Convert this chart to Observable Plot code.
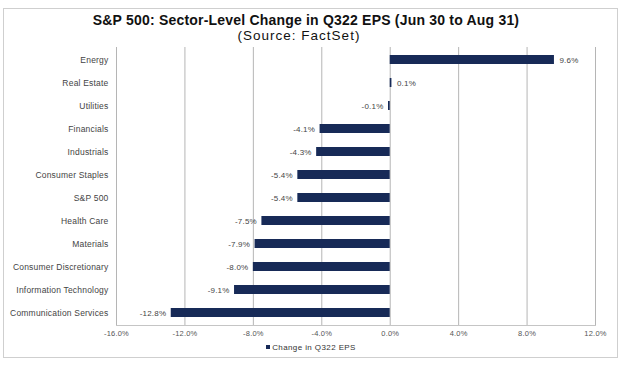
<!DOCTYPE html>
<html>
<head>
<meta charset="utf-8">
<script src="https://cdn.jsdelivr.net/npm/d3@7"></script>
<script src="https://cdn.jsdelivr.net/npm/@observablehq/plot@0.6"></script>
<style>
  html, body { margin: 0; padding: 0; background: #fff; }
  #wrap { position: relative; width: 630px; height: 365px; font-family: "Liberation Sans", Arial, sans-serif; overflow: hidden; }
  #frame { position: absolute; left: 3px; top: 8px; width: 613px; height: 348px; border: 1px solid #cfcfcf; }
  #title { position: absolute; left: 0; width: 612px; top: 12px; text-align: center; font-weight: bold; font-size: 14px; letter-spacing: 0.2px; color: #111; }
  #subtitle { position: absolute; left: 0; width: 598px; top: 28px; text-align: center; font-size: 13.5px; letter-spacing: 1px; color: #111; }
  #chart { position: absolute; left: 0; top: 40px; }
  #legend { position: absolute; left: 0; width: 622px; top: 343px; text-align: center; font-size: 8px; letter-spacing: 0.4px; color: #333; }
  #legend span.sw { display: inline-block; width: 4px; height: 4px; background: #172a57; margin-right: 2px; vertical-align: 1px; }
</style>
</head>
<body>
<div id="wrap">
  <div id="frame"></div>
  <div id="title">S&amp;P 500: Sector-Level Change in Q322 EPS (Jun 30 to Aug 31)</div>
  <div id="subtitle">(Source: FactSet)</div>
  <div id="chart"></div>
  <div id="legend"><span class="sw"></span>Change in Q322 EPS</div>
</div>
<script>
const sectors = ["Energy", "Real Estate", "Utilities", "Financials", "Industrials", "Consumer Staples", "S&P 500", "Health Care", "Materials", "Consumer Discretionary", "Information Technology", "Communication Services"];
const changes = [9.6, 0.1, -0.1, -4.1, -4.3, -5.4, -5.4, -7.5, -7.9, -8.0, -9.1, -12.8];
const xTicks = [-16, -12, -8, -4, 0, 4, 8, 12];

const data = sectors.map((s, i) => ({sector: s, value: changes[i]}));
const fmt = v => v.toFixed(1) + "%";

const chart = Plot.plot({
  width: 630,
  height: 305,
  marginTop: 7,
  marginBottom: 20,
  marginLeft: 116,
  marginRight: 35,
  style: {fontFamily: "Liberation Sans, Arial, sans-serif", fontSize: "8px", color: "#444", background: "transparent", letterSpacing: "0.2px"},
  x: {domain: [-16, 12], ticks: xTicks, tickFormat: fmt},
  y: {domain: sectors, paddingInner: 0.6, paddingOuter: 0.3},
  marks: [
    Plot.gridX(xTicks, {stroke: "#b5b5b5", strokeOpacity: 1, strokeWidth: 1}),
    Plot.frame({anchor: "bottom", stroke: "#c5c5c5"}),
    Plot.axisX({ticks: xTicks, tickFormat: fmt, tickSize: 0, tickPadding: 5, label: null, fontSize: 7.5, fill: "#555"}),
    Plot.axisY({tickSize: 0, tickPadding: 8, label: null, fontSize: 8.5, fill: "#444"}),
    Plot.barX(data, {x: "value", y: "sector", fill: "#172a57"}),
    Plot.text(data.filter(d => d.value >= 0), {x: "value", y: "sector", text: d => fmt(d.value), textAnchor: "start", dx: 5, fontSize: 8, fill: "#444"}),
    Plot.text(data.filter(d => d.value < 0), {x: "value", y: "sector", text: d => fmt(d.value), textAnchor: "end", dx: -5, fontSize: 8, fill: "#444"})
  ]
});
document.getElementById("chart").appendChild(chart);
</script>
</body>
</html>
